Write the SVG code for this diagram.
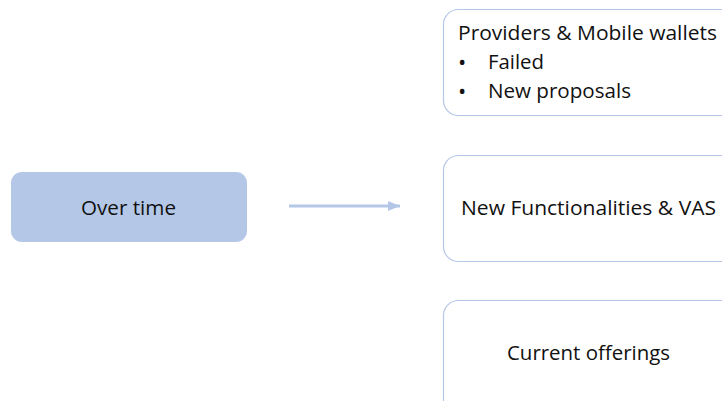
<svg xmlns="http://www.w3.org/2000/svg" width="722" height="401" viewBox="0 0 722 401">
<defs>
<style>
.t{font-family:"Open Sans","Noto Sans","Liberation Sans",sans-serif;font-size:20px;fill:#111111}
.box{fill:#ffffff;stroke:#b4c7e7;stroke-width:1.2}
.b{font-size:22px}
</style>
<marker id="ah" markerWidth="12" markerHeight="10" refX="12" refY="5" orient="auto" markerUnits="userSpaceOnUse">
<path d="M0,0 L12,5 L0,10 Z" fill="#b4c7e7"/>
</marker>
</defs>
<rect width="722" height="401" fill="#ffffff"/>
<g id="over-time">
<rect x="11" y="172" width="236" height="70" rx="11" fill="#b4c7e7"/>
<text class="t" x="81" y="215" textLength="95" lengthAdjust="spacingAndGlyphs">Over time</text>
</g>
<g id="connectors">
<line x1="289" y1="206" x2="400" y2="206" stroke="#b4c7e7" stroke-width="3" marker-end="url(#ah)"/>
</g>
<g id="providers">
<rect class="box" x="443.5" y="9.5" width="300" height="106" rx="15"/>
<text class="t" x="458" y="40" textLength="259" lengthAdjust="spacingAndGlyphs">Providers &amp; Mobile wallets</text>
<text class="t b" x="458" y="70">•</text>
<text class="t" x="488" y="69" textLength="56" lengthAdjust="spacingAndGlyphs">Failed</text>
<text class="t b" x="458" y="99">•</text>
<text class="t" x="488" y="98" textLength="143" lengthAdjust="spacingAndGlyphs">New proposals</text>
</g>
<g id="functionalities">
<rect class="box" x="443.5" y="155.5" width="300" height="106" rx="15"/>
<text class="t" x="461" y="215" textLength="255" lengthAdjust="spacingAndGlyphs">New Functionalities &amp; VAS</text>
</g>
<g id="current">
<rect class="box" x="443.5" y="300.5" width="300" height="120" rx="15"/>
<text class="t" x="507" y="360" textLength="163" lengthAdjust="spacingAndGlyphs">Current offerings</text>
</g>
</svg>
